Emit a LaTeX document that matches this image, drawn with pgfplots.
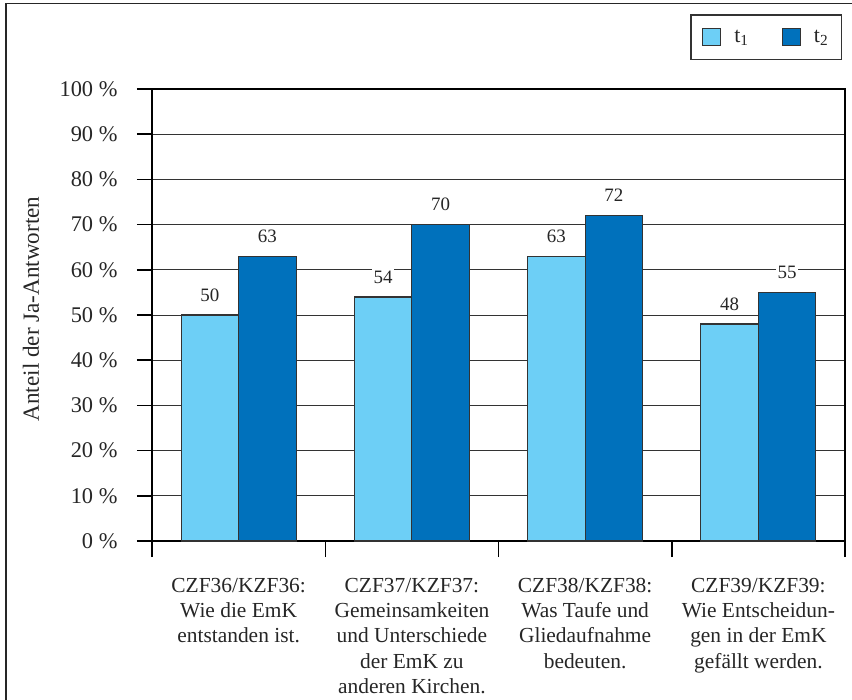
\documentclass[border=0pt]{standalone}
\usepackage{pgfplots}
\pgfplotsset{compat=1.18}
\usepackage{fontspec}
\setmainfont{Liberation Serif}
\definecolor{lightb}{HTML}{6DCFF6}
\definecolor{darkb}{HTML}{0071BC}
\definecolor{edge}{HTML}{333333}

\begin{document}
\begin{tikzpicture}
\useasboundingbox (0bp,0bp) rectangle (852bp,-700bp);
\draw[line width=1.5bp, black!85] (6bp,-700bp) -- (6bp,-3.5bp) -- (852bp,-3.5bp);
\begin{axis}[
  scale only axis, width=693bp, height=452bp,
  at={(152bp,-541bp)}, anchor=south west,
  xmin=-0.5, xmax=3.5, ymin=0, ymax=100,
  ybar=0pt, bar width=57.5bp,
  axis line style={black, line width=1.5bp},
  ymajorgrids, grid style={edge, line width=1bp},
  ytick={0,10,...,100},
  /pgf/number format/assume math mode=true,
  yticklabel={\pgfmathprintnumber{\tick}~\%},
  yticklabel style={font=\fontsize{22.5}{26}\selectfont, xshift=-16bp, text=black!85},
  tick align=outside, xtick pos=bottom, ytick pos=left,
  major tick length=15bp, minor tick length=16bp,
  tick style={black, line width=1.5bp},
  xtick={0,1,2,3},
  major x tick style={draw=none},
  minor xtick={-0.5,0.5,1.5,2.5,3.5},
  xticklabels={{CZF36/KZF36:\\Wie die EmK\\entstanden ist.},
               {CZF37/KZF37:\\Gemeinsamkeiten\\und Unterschiede\\der EmK zu\\anderen Kirchen.},
               {CZF38/KZF38:\\Was Taufe und\\Gliedaufnahme\\bedeuten.},
               {CZF39/KZF39:\\Wie Entscheidun-\\gen in der EmK\\gefällt werden.}},
  xticklabel style={align=center, font=\fontsize{21.5}{25.3}\selectfont, inner sep=0pt, yshift=-22bp, text=black!85},
  nodes near coords,
  nodes near coords style={font=\fontsize{19}{22}\selectfont, fill=white, inner xsep=1.5bp, inner ysep=2bp, anchor=south, yshift=11bp, text=black!85},
  legend columns=2,
  legend style={at={(0.99567,1.1659)}, anchor=north east, draw=edge, line width=1.5bp,
    font=\fontsize{22}{26}\selectfont, inner xsep=11bp, inner ysep=13bp, text=black!85,
    /tikz/every odd column/.append style={column sep=11bp},
    /tikz/every even column/.append style={column sep=31bp}},
  legend image code/.code={\draw[#1, draw=edge, line width=1.5bp] (0bp,-8.5bp) rectangle (18bp,8.5bp);},
  clip=false,
]
\addplot[fill=lightb, draw=edge, line width=1.2bp] coordinates {(0,50) (1,54) (2,63) (3,48)};
\addplot[fill=darkb, draw=edge, line width=1.2bp] coordinates {(0,63) (1,70) (2,72) (3,55)};
\legend{t\textsubscript{1}, t\textsubscript{2}}
\end{axis}
\node[rotate=90, font=\fontsize{23.2}{26}\selectfont, text=black!85] at (31bp,-309bp) {Anteil der Ja-Antworten};
\end{tikzpicture}
\end{document}
